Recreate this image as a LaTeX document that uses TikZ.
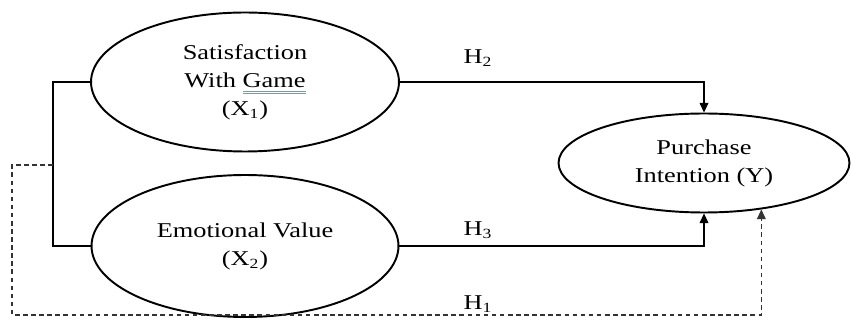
\documentclass[tikz,border=0pt]{standalone}
\usepackage{fontspec}
\setmainfont{Liberation Serif}[FakeStretch=1.25]
\usetikzlibrary{shapes.geometric,arrows.meta}
\definecolor{markblue}{RGB}{120,150,210}
\newlength{\gmw}
\newcommand{\gmark}[1]{\settowidth{\gmw}{#1}\leavevmode\rlap{\color{markblue}\rule[-2.4pt]{\gmw}{0.35pt}}\rlap{\color{markblue}\rule[-3.6pt]{\gmw}{0.35pt}}#1}
\tikzset{
  var/.style={ellipse,draw,line width=1.1pt,align=center,inner sep=0pt,
    font=\fontsize{12}{16}\selectfont},
  path/.style={line width=0.6pt},
  hyp/.style={font=\fontsize{12}{14}\selectfont}
}
\begin{document}
\begin{tikzpicture}[x=0.02cm,y=-0.02cm,>={Triangle[length=5.5pt,width=5pt]}]
  \useasboundingbox (0,0) rectangle (851,327);
  \node[var,minimum width=6.16cm,minimum height=2.78cm] (x1) at (245,82)
    {Satisfaction\\With \gmark{Game}\\(X\textsubscript{1})};
  \node[var,minimum width=6.14cm,minimum height=2.84cm] (x2) at (245,246)
    {Emotional Value\\(X\textsubscript{2})};
  \node[var,minimum width=5.82cm,minimum height=1.98cm] (y) at (704,163)
    {Purchase\\Intention (Y)};
  \node[hyp] (h2) at (478,58) {H\textsubscript{2}};
  \node[hyp] (h3) at (478,230) {H\textsubscript{3}};
  \node[hyp] (h1) at (478,304) {H\textsubscript{1}};
  \coordinate (jt) at (53,82);
  \coordinate (jb) at (53,246);
  \coordinate (jm) at (53,165);
  \coordinate (dc) at (12,315);
  \begin{scope}[path]
    \draw (x1.west) -- (jt) -- (jb) -- (x2.west);
    \draw[->] (x1.east) -| (y.north);
    \draw[->] (x2.east) -| (y.south);
    \draw[->,black!80,dash pattern=on 2.6pt off 2pt] (jm) -| (dc) -| (y.-39);
  \end{scope}
\end{tikzpicture}
\end{document}
